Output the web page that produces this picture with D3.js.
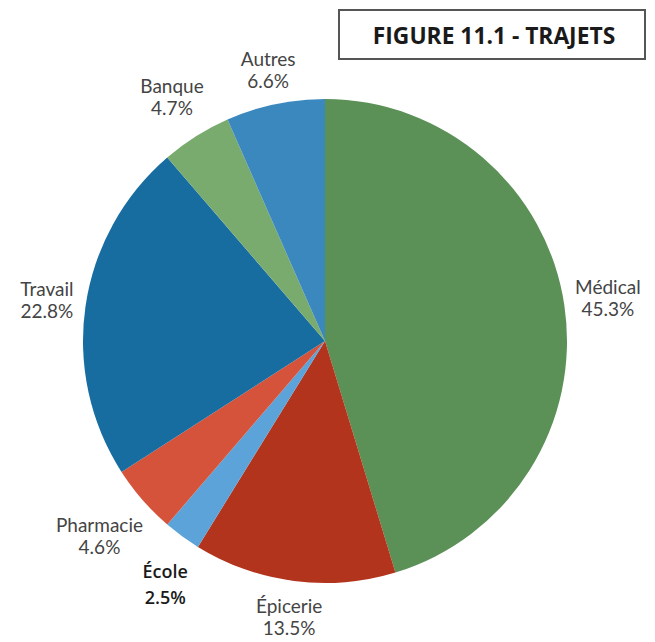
<!DOCTYPE html>
<html><head><meta charset="utf-8">
<script src="https://cdn.jsdelivr.net/npm/d3@7"></script>
<style>html,body{margin:0;padding:0;background:#fff;}svg{display:block;}</style>
</head><body>
<svg id="chart" width="655" height="642"></svg>
<script>
// Data
const categories = ["Médical", "Épicerie", "École", "Pharmacie", "Travail", "Banque", "Autres"];
const values = [45.3, 13.5, 2.5, 4.6, 22.8, 4.7, 6.6];
const valueLabels = ["45.3%", "13.5%", "2.5%", "4.6%", "22.8%", "4.7%", "6.6%"];
const title = "FIGURE 11.1 - TRAJETS";

// Styles / layout
const colors = ["#5b9057", "#b3341c", "#5ba3d8", "#d5533a", "#176ca0", "#79ab6f", "#3b88bf"];
const labelRadius = [286, 279, 292, 299, 281, 287, 276];
const labelAngleNudge = [0, 0, -3, 0, 0, 0, 0];
const boldLabel = [false, false, true, false, false, false, false];

const svg = d3.select("#chart");
const cx = 325, cy = 341, R = 242;

const pie = d3.pie().sort(null).value(d => d.v);
const data = pie(categories.map((c, i) => ({c, v: values[i], i})));
const arc = d3.arc().innerRadius(0).outerRadius(R);

const g = svg.append("g").attr("transform", `translate(${cx},${cy})`);
g.selectAll("path").data(data).enter().append("path")
  .attr("d", arc)
  .attr("fill", d => colors[d.data.i]);

const labels = g.selectAll("g.lab").data(data).enter().append("g").attr("class", "lab")
  .attr("transform", d => {
    const i = d.data.i;
    const a = (d.startAngle + d.endAngle) / 2 + labelAngleNudge[i] * Math.PI / 180;
    const r = labelRadius[i];
    return `translate(${r * Math.sin(a)},${-r * Math.cos(a)})`;
  });

labels.each(function(d) {
  const i = d.data.i;
  const el = d3.select(this);
  const bold = boldLabel[i];
  const gap = bold ? 26 : 22;
  const t = el.append("text")
    .attr("text-anchor", "middle")
    .attr("font-family", bold ? "'Open Sans', sans-serif" : "Lato, 'Open Sans', sans-serif")
    .attr("font-weight", bold ? 600 : 400)
    .attr("font-size", bold ? 18 : 19)
    .attr("fill", bold ? "#1a1a1a" : "#444");
  t.append("tspan").attr("x", 0).attr("y", -gap / 2 + 6).text(categories[i]);
  t.append("tspan").attr("x", 0).attr("y", gap / 2 + 6).text(valueLabels[i]);
});

// Title box
svg.append("rect").attr("x", 339).attr("y", 10).attr("width", 306).attr("height", 49)
  .attr("fill", "#fff").attr("stroke", "#555").attr("stroke-width", 2);
svg.append("text").attr("x", 494).attr("y", 44).attr("text-anchor", "middle")
  .attr("font-family", "'Open Sans', sans-serif").attr("font-weight", 700)
  .attr("font-size", 22.8).attr("fill", "#1a1a1a").text(title);
</script>
</body></html>
